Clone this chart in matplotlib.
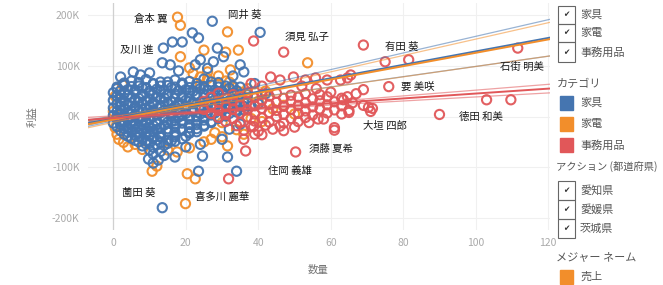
import numpy as np
import matplotlib
matplotlib.use("Agg")
import matplotlib.pyplot as plt
from matplotlib.patches import Rectangle

plt.rcParams['font.family'] = ['Noto Sans CJK JP', 'DejaVu Sans']

# --- data (数量, 利益[K]) ---
blue_pts = [
    (5, 70), (9, 73), (13, 68), (17, 72), (21, 69), (25, 74), (29, 67),
    (3, 62), (7, 60), (11, 64), (15, 61), (19, 63), (23, 59), (27, 62), (31, 60), (35, 58),
    (1, 55), (4, 53), (8, 56), (12, 54), (16, 57), (20, 53), (24, 55), (28, 52), (32, 56),
    (0, 47), (3, 45), (6, 48), (10, 46), (13, 49), (17, 45), (21, 47), (25, 44), (29, 48), (33, 46), (37, 43),
    (1, 40), (5, 38), (8, 41), (12, 39), (15, 42), (19, 38), (23, 40), (27, 37), (31, 41), (35, 39),
    (0, 32), (3, 30), (6, 33), (9, 31), (13, 34), (16, 30), (20, 32), (24, 29), (28, 33), (32, 31), (36, 28),
    (1, 25), (4, 23), (8, 26), (11, 24), (15, 27), (18, 23), (22, 25), (26, 22), (30, 26), (34, 24), (38, 21),
    (0, 17), (3, 15), (6, 18), (9, 16), (13, 19), (16, 15), (20, 17), (24, 14), (28, 18), (32, 16), (36, 13),
    (1, 10), (4, 8), (7, 11), (11, 9), (14, 12), (18, 8), (22, 10), (26, 7), (30, 11), (34, 9),
    (0, 2), (3, 0), (6, 3), (9, 1), (12, 4), (16, 0), (19, 2), (23, -1), (27, 3), (31, 1),
    (1, -5), (4, -7), (7, -4), (10, -6), (14, -3), (17, -8), (21, -5), (25, -7), (29, -4),
    (0, -13), (3, -11), (6, -14), (9, -12), (12, -15), (15, -11), (19, -13), (23, -16), (27, -12),
    (1, -20), (4, -22), (7, -19), (10, -21), (13, -23), (17, -20), (21, -22), (25, -19),
    (2, -28), (5, -30), (8, -27), (11, -29), (15, -31), (19, -27), (23, -30),
    (3, -35), (6, -37), (9, -34), (13, -38), (17, -36), (21, -33),
    (5, -43), (8, -45), (11, -42), (15, -46), (19, -44),
    (7, -50), (10, -53), (13, -51), (17, -49),
    (8, -58), (11, -61), (14, -57),
    (10, -66), (13, -69),
    (11, -74), (14, -77),
    # between the rows above
    (3, 66), (7, 67), (11, 65), (15, 68), (19, 66), (23, 65), (27, 68),
    (1, 58), (5, 59), (9, 57), (13, 60), (17, 58), (21, 57), (25, 59), (29, 58), (33, 60),
    (2, 51), (6, 52), (10, 50), (14, 52), (18, 51), (22, 50), (26, 52), (30, 50), (34, 51),
    (2, 43), (4, 42), (8, 44), (11, 43), (15, 44), (19, 42), (23, 43), (27, 44), (31, 42), (35, 44),
    (2, 36), (7, 36), (10, 35), (14, 37), (17, 36), (21, 35), (25, 37), (29, 36), (33, 35),
    (2, 28), (5, 27), (7, 29), (11, 28), (14, 29), (18, 27), (22, 28), (26, 29), (30, 28), (34, 27),
    (2, 21), (6, 20), (10, 21), (13, 22), (17, 20), (20, 21), (24, 20), (28, 22), (32, 21), (36, 20),
    (2, 13), (5, 12), (8, 14), (11, 13), (15, 12), (18, 14), (22, 13), (26, 12), (30, 14), (34, 13),
    (2, 6), (5, 5), (9, 6), (13, 7), (16, 5), (20, 6), (24, 5), (28, 7), (32, 6),
    (1, -1), (5, -2), (8, -1), (11, 0), (14, -2), (18, -1), (21, 0), (25, -2), (29, -1),
    (2, -9), (5, -10), (8, -8), (12, -9), (16, -10), (19, -8), (23, -9), (27, -10),
    (2, -16), (5, -17), (8, -16), (11, -18), (14, -17), (17, -15), (21, -16), (25, -17),
    (3, -24), (6, -25), (9, -24), (12, -26), (15, -24), (19, -25), (23, -24),
    (4, -31), (7, -32), (10, -31), (13, -33), (17, -31), (21, -30),
    (4, -39), (7, -40), (10, -38), (13, -41), (17, -40), (20, -39),
    (6, -47), (9, -48), (12, -46), (16, -48),
    (9, -54), (12, -56), (15, -53),
    # scattered outer points
    (27.3, 188), (40.5, 166), (13.8, 135), (13.5, -180), (9.7, -84), (12.4, -86), (11, -92),
    (17, -80), (24.6, -78), (23.5, -108), (31.5, -80), (34, -108), (30, -45), (21.8, 165),
    (23.5, 155), (19, 147), (16.3, 147), (28.7, 135), (30.4, 118), (27.6, 108), (35, 102),
    (36, 88), (13.5, 106), (15.7, 102), (22.6, 102), (24, 112), (5.5, 88), (10, 86), (7.5, 82),
    (2, 78), (18, 90), (26, 95), (33, 80), (39, 65), (42, 45), (40, 25), (32, -25), (35, -15),
    (20, -60), (24, -55),
]

orange_pts = [
    (17.7, 196), (18.5, 180), (31.5, 167), (18.5, 118), (25, 131), (31, 127), (34.5, 131),
    (21, 96), (32.3, 92), (2.5, 63), (1, -35), (2.8, -51), (10.7, -108), (17.6, -70),
    (20.4, -113), (22.6, -123), (31.5, -58), (19.9, -172), (53.6, 106), (0.5, -22), (1.5, -45),
    (4, -60), (6, -55), (26, 75), (29, 80), (31, 70), (33, 58), (35, 48), (37, 36), (34, 22),
    (36, 12), (38, -4), (30, -12), (28, -32), (34, -26), (25, -50), (21, -62), (15, -66),
    (12, -98), (22, 85), (26, 88), (24, 78), (29, 64), (32, 68), (30, -40), (27, -45), (40, 30),
    (44, 15), (42, 50), (0, 10), (0.5, 40), (8, -65), (36, -35), (41, -10), (47, 22), (50, 5),
    (24, 62), (37, 55),
]

red_pts = [
    (29, 46), (33, 43), (37, 47), (41, 44), (45, 46), (49, 42), (53, 45), (57, 43),
    (27, 38), (31, 36), (35, 39), (39, 37), (43, 40), (47, 36), (51, 38), (55, 35), (59, 39), (63, 36),
    (25, 30), (29, 28), (33, 31), (37, 29), (41, 32), (45, 28), (49, 30), (53, 27), (57, 31), (61, 29), (66, 27),
    (27, 22), (31, 20), (35, 23), (39, 21), (43, 24), (47, 20), (51, 22), (55, 19), (59, 23), (63, 21),
    (25, 14), (29, 12), (33, 15), (37, 13), (41, 16), (45, 12), (49, 14), (53, 11), (57, 15), (61, 13), (65, 12),
    (27, 6), (31, 4), (35, 7), (39, 5), (43, 8), (47, 4), (51, 6), (55, 3), (59, 7), (63, 5),
    (29, -2), (33, -4), (37, -1), (41, -3), (45, 0), (49, -4), (53, -2), (58, -5),
    (31, -10), (35, -12), (39, -9), (43, -11), (47, -13), (51, -10),
    (34, -18), (38, -20), (42, -17), (46, -19),
    (36, -27), (40, -29), (47, -28),
    (36.5, -68), (31.8, -123), (38.7, -20), (50.3, -70), (38.7, 149), (47, 127), (69, 141),
    (75, 108), (81.5, 112), (65.5, 82), (64.6, 76), (69, 53), (76, 59), (70.4, 18), (64.6, 39),
    (59, 72), (55.8, 76), (53, 72), (49.7, 78), (46, 72), (43.4, 78), (111.6, 135), (103, 33),
    (109.7, 33), (90, 4), (62.7, 72), (63.5, 33), (69, 22), (61, -22), (39, -35), (41, -36),
    (44, -25), (50, -21), (54, -12), (56.5, -5), (61, -27), (65, 8), (71, 10), (71.5, 16),
    (36, -45), (41, 60), (56, 55), (60, 48), (67, 45), (38, 65), (52, 60),
]

categories = ['家具', '家電', '事務用品']
colors = ['#4575b0', '#f28e2b', '#e15759']

# trend lines: intercept, slope, band half-width
trend_b0 = [-4, -6, -3]
trend_b1 = [1.325, 1.317, 0.483]
trend_w0 = [4, 4, 2.5]
trend_w120 = [36, 33, 8.5]
trend_xm = [8, 12, 35]

name_text = ['倉本 翼', '岡井 葵', '及川 進', '須見 弘子', '有田 葵', '石街 明美', '要 美咲',
             '大垣 四郎', '徳田 和美', '須藤 夏希', '住岡 義雄', '薗田 葵', '喜多川 麗華']
name_x = [14.9, 31.5, 11, 47.5, 75.1, 118.8, 79.3, 68.8, 95.3, 53.9, 42.8, 2.5, 22.4]
name_y = [194, 200, 131, 158, 137, 98, 58, -19, -1, -64, -107, -151, -159]
name_ha = ['right', 'left', 'right', 'left', 'left', 'right', 'left',
           'left', 'left', 'left', 'left', 'left', 'left']

W, H = 663, 285
fig = plt.figure(figsize=(W / 100, H / 100), dpi=100)


def fx(x):
    return x / W


def fy(y):
    return 1 - y / H


ax = fig.add_axes([fx(88), fy(230), 462 / W, 227 / H])

for pts, c in [(orange_pts, colors[1]), (blue_pts, colors[0]), (red_pts, colors[2])]:
    arr = np.array(pts)
    ax.scatter(arr[:, 0], arr[:, 1], s=44, facecolors='none', edgecolors=c,
               linewidths=1.5, alpha=0.95, zorder=3)

xs = np.linspace(-7, 120.5, 200)
for i in range(3):
    c = trend_b0[i] + trend_b1[i] * xs
    k = np.sqrt(trend_w120[i] ** 2 - trend_w0[i] ** 2) / (120 - trend_xm[i])
    w = np.sqrt(trend_w0[i] ** 2 + (k * (xs - trend_xm[i])) ** 2)
    ax.plot(xs, c + w, color=colors[i], lw=0.9, alpha=0.55, zorder=4)
    ax.plot(xs, c - w, color=colors[i], lw=0.9, alpha=0.55, zorder=4)
for i in range(3):
    c = trend_b0[i] + trend_b1[i] * xs
    ax.plot(xs, c, color=colors[i], lw=1.4, zorder=5)
# grey overlap of the bands left of the zero line
ax.fill_between([-7, 0], [-17, -5], [-5, 1], color='#777777', alpha=0.6, lw=0, zorder=4)

for t, x, y, ha in zip(name_text, name_x, name_y, name_ha):
    ax.text(x, y, t, ha=ha, va='center', fontsize=7.5, color='#1a1a1a', zorder=6)

ax.set_xlim(-7, 120.5)
ax.set_ylim(-224, 224)
ax.set_xticks([0, 20, 40, 60, 80, 100, 120])
ax.set_yticks([-200, -100, 0, 100, 200])
ax.set_yticklabels(['-200K', '-100K', '0K', '100K', '200K'])
ax.tick_params(length=0, labelsize=7.5, labelcolor='#aaaaaa', pad=6)
ax.grid(True, color='#f0f0f0', lw=0.8)
ax.set_axisbelow(True)
ax.axvline(0, color='#d0d0d0', lw=0.9, zorder=1)
for s in ax.spines.values():
    s.set_visible(False)

fig.text(fx(33), fy(117), '利益', rotation=90, ha='center', va='center', fontsize=7.5, color='#777777')
fig.text(fx(318), fy(270), '数量', ha='center', va='center', fontsize=7.5, color='#777777')

# --- legend panel ---
tcol = '#555555'
fs = 8


def checkbox(y0, y1, label):
    fig.patches.append(Rectangle((fx(558), fy(y1)), 17 / W, (y1 - y0) / H,
                                 transform=fig.transFigure, fill=False, ec='#666666', lw=0.8))
    fig.text(fx(566.5), fy((y0 + y1) / 2), '✔', ha='center', va='center', fontsize=5.5,
             color='#333333', family=['DejaVu Sans'])
    fig.text(fx(580), fy((y0 + y1) / 2), label, ha='left', va='center', fontsize=fs, color=tcol)


def swatch(yc, c, label):
    fig.patches.append(Rectangle((fx(560), fy(yc + 7)), 13 / W, 14 / H,
                                 transform=fig.transFigure, color=c))
    fig.text(fx(580), fy(yc), label, ha='left', va='center', fontsize=fs, color=tcol)


checkbox(6, 24, '家具')
checkbox(24, 42, '家電')
checkbox(42, 62, '事務用品')

fig.text(fx(557), fy(84), 'カテゴリ', ha='left', va='center', fontsize=fs, color=tcol)
for yc, c, lab in zip([103, 124, 145], colors, categories):
    swatch(yc, c, lab)

fig.text(fx(556), fy(166), 'アクション (都道府県)', ha='left', va='center', fontsize=7.4, color=tcol)
checkbox(181, 200, '愛知県')
checkbox(200, 219, '愛媛県')
checkbox(219, 238, '茨城県')

fig.text(fx(556), fy(258), 'メジャー ネーム', ha='left', va='center', fontsize=fs, color=tcol)
swatch(277, colors[1], '売上')

fig.savefig('out.png', dpi=100)
